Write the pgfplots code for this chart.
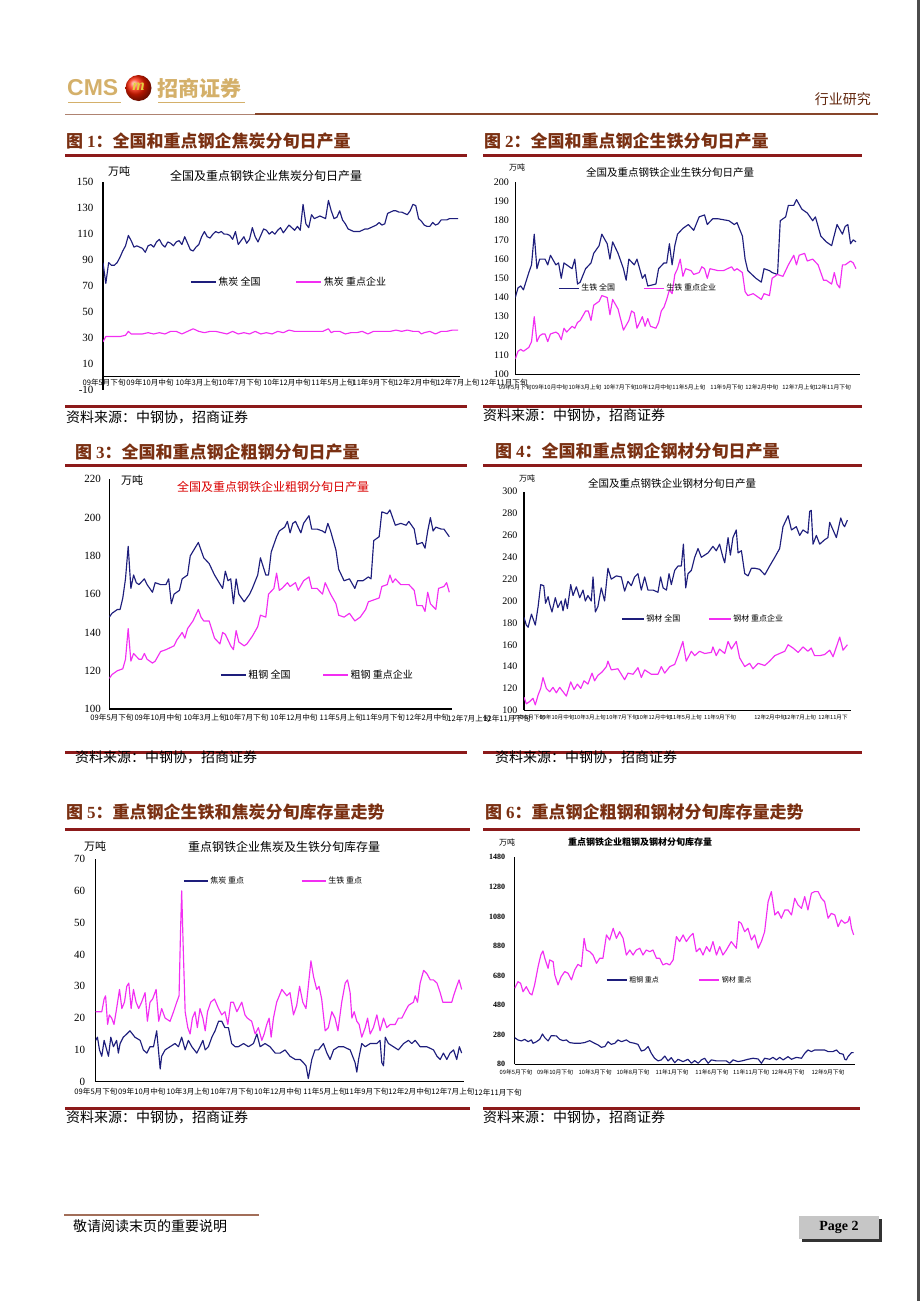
\documentclass[border=0pt]{standalone}
\usepackage{fontspec}
\setmainfont{Liberation Serif}
\newfontfamily\cjk{Noto Sans CJK SC}
\newfontfamily\sans{Liberation Sans}
\usepackage{pgfplots}
\pgfplotsset{compat=1.18}
\definecolor{navy}{HTML}{1E1E7C}
\definecolor{mag}{HTML}{F22EF2}
\definecolor{brn}{HTML}{7A3012}
\definecolor{rul}{HTML}{8C1A1A}
\definecolor{gold}{HTML}{D4B06A}
\newcommand{\fs}[1]{\fontsize{#1}{#1}\selectfont}
\pgfplotsset{
 chart/.style={
  scale only axis, axis y line*=left, axis x line*=bottom,
  axis line style={black, line width=1.3pt},
  xmin=0, major tick length=0pt,
  hide obscured x ticks=false,
  /pgf/number format/assume math mode=true,
  /pgf/number format/1000 sep={},
  xticklabel style={anchor=north, inner sep=0.5pt},
  legend cell align=left,
  legend style={draw=none, fill=none, inner sep=0pt, legend columns=2, anchor=west},
  every axis plot/.append style={line width=1.15pt, line join=round, mark=none},
 },
 bl/.style={color=navy},
 pk/.style={color=mag},
}
\begin{document}
\begin{tikzpicture}[x=1pt,y=-1pt]
\path[use as bounding box] (0,0) rectangle (920,1301);
% header
\node[anchor=west, font=\sans\bfseries\fs{23}, text=gold, inner sep=0] at (67,88) {CMS};
\shade[ball color=red!75!orange] (138.5,88) circle (13);
\node[font=\bfseries\itshape\fs{16}, text=gold!60!yellow] at (138.5,87) {m};
\node[anchor=west, font=\cjk\bfseries\fs{21}, text=gold, inner sep=0] at (157,88) {招商证券};
\draw[gold, line width=0.8pt] (68,102) -- (121,102);
\draw[gold, line width=0.8pt] (158,102) -- (245,102);
\node[anchor=east, font=\cjk\fs{14}, text=brn!80!black, inner sep=0] at (871,99) {行业研究};
\draw[brn!60, line width=1pt] (65,114) -- (255,114);
\draw[brn!90, line width=1.8pt] (255,114) -- (878,114);
\draw[gray!60!black, line width=2.5pt] (918.5,0) -- (918.5,1301);
% section titles
\begin{scope}[every node/.style={anchor=west, font=\cjk\bfseries\fs{17}, text=brn, inner sep=0}]
\node at (66,141) {图 \textrm{1}：全国和重点钢企焦炭分旬日产量};
\node at (484,141) {图 \textrm{2}：全国和重点钢企生铁分旬日产量};
\node at (75,452) {图 \textrm{3}：全国和重点钢企粗钢分旬日产量};
\node at (495,451) {图 \textrm{4}：全国和重点钢企钢材分旬日产量};
\node at (66,812) {图 \textrm{5}：重点钢企生铁和焦炭分旬库存量走势};
\node at (485,812) {图 \textrm{6}：重点钢企粗钢和钢材分旬库存量走势};
\end{scope}
\begin{scope}[rul, line width=3pt]
\draw (65,155) -- (467,155); \draw (483,155) -- (862,155);
\draw (65,465) -- (467,465); \draw (483,465) -- (862,465);
\draw (65,829) -- (470,829); \draw (483,829) -- (860,829);
\draw (65,406) -- (467,406); \draw (483,406) -- (862,406);
\draw (65,752) -- (467,752); \draw (483,752) -- (862,752);
\draw (65,1108) -- (470,1108); \draw (483,1108) -- (860,1108);
\end{scope}
\begin{scope}[every node/.style={anchor=west, font=\cjk\fs{14}, inner sep=0}]
\node at (66,417) {资料来源：中钢协，招商证券};
\node at (483,415) {资料来源：中钢协，招商证券};
\node at (75,757) {资料来源：中钢协，招商证券};
\node at (495,757) {资料来源：中钢协，招商证券};
\node at (66,1117) {资料来源：中钢协，招商证券};
\node at (483,1117) {资料来源：中钢协，招商证券};
\end{scope}
% chart titles and units
\node[font=\cjk\fs{12}] at (266,176) {全国及重点钢铁企业焦炭分旬日产量};
\node[font=\cjk\fs{11}] at (119,171) {万吨};
\node[font=\cjk\fs{10.5}] at (670,172) {全国及重点钢铁企业生铁分旬日产量};
\node[font=\cjk\fs{8}] at (517,167) {万吨};
\node[font=\cjk\fs{12}, text=red!85!black] at (273,487) {全国及重点钢铁企业粗钢分旬日产量};
\node[font=\cjk\fs{11}] at (132,480) {万吨};
\node[font=\cjk\fs{10.5}] at (672,483) {全国及重点钢铁企业钢材分旬日产量};
\node[font=\cjk\fs{8}] at (527,478) {万吨};
\node[font=\cjk\fs{12}] at (284,847) {重点钢铁企业焦炭及生铁分旬库存量};
\node[font=\cjk\fs{11}] at (95,846) {万吨};
\node[font=\cjk\bfseries\fs{9}] at (640,842) {重点钢铁企业粗钢及钢材分旬库存量};
\node[font=\cjk\fs{8}] at (507,842) {万吨};
% category labels that run past the right end of their axes
\node[font=\cjk\fs{7.6}, inner sep=0.5pt] at (504,383) {12年11月下旬};
\node[font=\cjk\fs{7.6}, inner sep=0.5pt] at (469,719) {12年7月上旬};
\node[font=\cjk\fs{7.6}, inner sep=0.5pt] at (507,719) {12年11月下旬};
\node[font=\cjk\fs{7.6}, inner sep=0.5pt] at (498,1093) {12年11月下旬};
% footer
\draw[brn!70, line width=1.5pt] (64,1215) -- (259,1215);
\node[anchor=west, font=\cjk\fs{14}, inner sep=0] at (73,1226) {敬请阅读末页的重要说明};
\fill[black!80] (802,1219) rectangle (882,1242);
\fill[gray!45] (799,1216) rectangle (879,1239);
\node[font=\bfseries\fs{14}] at (839,1227.5) {Page 2};

% ---------------- chart 1
\begin{axis}[chart, at={(103pt,-389.7pt)}, anchor=south west, width=357pt, height=207.4pt,
  axis x line*=middle, ymin=-10, ymax=150, ytick={-10,10,...,150}, xmax=126.7,
  yticklabel style={font=\fs{11}, xshift=-6pt},
  xtick={0.4,16.7,33.4,48.6,65.3,81.6,96.2,111.1,126},
  xticklabels={09年5月下旬,09年10月中旬,10年3月上旬,10年7月下旬,10年12月中旬,11年5月上旬,11年9月下旬,12年2月中旬,12年7月上旬},
  xticklabel style={font=\cjk\fs{7.6}, yshift=-1.5pt},
  legend style={at={(0.244,0.519)}, font=\cjk\fs{10}, /tikz/every even column/.append style={column sep=33pt}},
  legend image code/.code={\draw[#1] (0pt,0pt) -- (25pt,0pt);}]
\addplot[bl] coordinates {(0,88)(1,72)(2,88)(3,86)(4,86)(5,88)(6,92)(7,97)(8,101)(9,109)(10,105)(11,100)(12,101)(13,100)(14,99)(15,96)(16,101)(17,102)(18,100)(19,104)(20,106)(21,102)(22,100)(23,104)(24,103)(25,101)(26,104)(27,105)(28,102)(29,108)(30,103)(31,98)(32,97)(33,100)(34,102)(35,108)(36,112)(37,108)(38,107)(39,110)(40,112)(41,111)(42,112)(43,110)(44,110)(45,109)(46,106)(47,112)(48,102)(49,105)(50,108)(51,103)(52,106)(53,115)(54,108)(55,104)(56,109)(57,114)(58,113)(59,110)(60,112)(61,110)(62,113)(63,115)(64,111)(65,114)(66,117)(67,115)(68,113)(69,116)(70,113)(71,133)(72,118)(73,115)(74,125)(75,122)(76,123)(77,124)(78,123)(79,122)(80,136)(81,128)(82,122)(83,123)(84,128)(85,121)(86,118)(87,114)(88,113)(89,112)(90,112)(91,112)(92,113)(93,114)(94,114)(95,115)(96,116)(97,117)(98,119)(99,117)(100,118)(101,126)(102,127)(103,128)(104,128)(105,127)(106,127)(107,126)(108,125)(109,128)(110,133)(111,132)(112,122)(113,120)(114,117)(115,116)(116,116)(117,119)(118,117)(119,118)(120,121)(121,121)(122,121)(123,122)(124,122)(125,122)(126,122)};
\addlegendentry{焦炭 全国}
\addplot[pk] coordinates {(0,27)(1,31)(2,31)(4,31)(6,31)(8,32)(9,35)(10,33)(12,33)(14,33)(16,34)(18,33)(20,34)(22,33)(24,35)(26,35)(28,33)(30,35)(32,37)(34,35)(36,34)(38,35)(40,35)(42,34)(44,33)(46,35)(48,33)(50,34)(52,33)(54,35)(56,33)(58,34)(60,33)(62,35)(64,34)(66,36)(68,35)(70,35)(72,35)(74,35)(76,35)(78,35)(80,37)(81,34)(82,35)(84,35)(86,33)(88,34)(90,34)(92,35)(94,33)(96,35)(98,35)(100,35)(102,35)(104,36)(106,35)(108,36)(110,35)(112,35)(113,33)(114,34)(116,35)(118,33)(120,35)(122,35)(124,36)(126,36)};
\addlegendentry{焦炭 重点企业}
\end{axis}

% ---------------- chart 2
\begin{axis}[chart, at={(515.3pt,-374.3pt)}, anchor=south west, width=344.7pt, height=192pt,
  ymin=100, ymax=200, ytick={100,110,...,200}, xmax=127.5,
  yticklabel style={font=\fs{10}, xshift=-3pt},
  xtick={0,12.8,25.8,38.7,51.3,64.2,78.2,91.2,104.9,117.5},
  xticklabels={09年5月下旬,09年10月中旬,10年3月上旬,10年7月下旬,10年12月中旬,11年5月上旬,11年9月下旬,12年2月中旬,12年7月上旬,12年11月下旬},
  xticklabel style={font=\cjk\fs{5.8}, yshift=-9.3pt},
  legend style={at={(0.124,0.449)}, font=\cjk\fs{8}, /tikz/every even column/.append style={column sep=26pt}},
  legend image code/.code={\draw[#1] (0pt,0pt) -- (20pt,0pt);}]
\addplot[bl] coordinates {(0,140)(1,145)(2,146)(3,144)(5,153)(6,157)(7,173)(8,155)(9,160)(11,160)(12,157)(13,162)(15,157)(16,158)(17,150)(18,158)(21,155)(22,160)(23,147)(24,148)(26,155)(28,158)(29,163)(31,167)(32,173)(34,168)(35,160)(36,169)(38,163)(40,155)(41,149)(42,160)(44,157)(45,160)(47,150)(48,152)(49,146)(52,147)(53,155)(55,158)(56,158)(57,168)(58,157)(59,167)(60,173)(62,176)(64,178)(66,175)(68,182)(70,183)(71,178)(73,181)(75,181)(79,180)(81,178)(82,179)(84,172)(85,160)(86,154)(89,150)(91,148)(92,155)(94,154)(95,153)(97,152)(98,180)(100,182)(101,188)(103,188)(104,191)(106,186)(108,184)(110,180)(111,182)(113,172)(115,169)(117,167)(119,178)(121,173)(122,177)(123,178)(124,168)(125,170)(126,169)};
\addlegendentry{生铁 全国}
\addplot[pk] coordinates {(0,108)(1,112)(2,113)(3,112)(5,114)(6,117)(7,130)(8,117)(9,120)(10,121)(11,121)(12,117)(13,121)(15,122)(16,121)(17,118)(18,124)(19,122)(21,125)(22,124)(23,127)(24,128)(26,133)(27,133)(28,128)(29,136)(31,138)(32,141)(34,140)(35,131)(36,139)(38,134)(40,123)(42,128)(43,133)(44,132)(45,124)(47,130)(48,125)(49,129)(50,125)(52,124)(53,127)(54,133)(55,135)(56,139)(57,144)(58,142)(59,152)(60,155)(61,160)(62,151)(63,155)(65,154)(66,152)(68,153)(69,156)(70,155)(71,150)(72,155)(75,154)(77,154)(80,156)(81,154)(82,155)(84,153)(85,143)(86,141)(88,142)(91,139)(92,142)(94,141)(95,150)(97,152)(99,151)(101,157)(103,162)(104,157)(105,162)(107,163)(108,159)(110,160)(112,157)(114,149)(115,149)(117,147)(118,153)(119,147)(120,145)(121,157)(122,157)(124,159)(125,158)(126,155)};
\addlegendentry{生铁 重点企业}
\end{axis}

% ---------------- chart 3
\begin{axis}[chart, at={(109.3pt,-709pt)}, anchor=south west, width=342.7pt, height=229.7pt,
  ymin=100, ymax=220, ytick={100,120,...,220}, xmax=127,
  yticklabel style={font=\fs{11}, xshift=-5pt},
  xtick={1,18.1,35.5,51,68.4,85.9,101.6,117.8},
  xticklabels={09年5月下旬,09年10月中旬,10年3月上旬,10年7月下旬,10年12月中旬,11年5月上旬,11年9月下旬,12年2月中旬},
  xticklabel style={font=\cjk\fs{7.6}, yshift=-4.5pt},
  legend style={at={(0.323,0.148)}, font=\cjk\fs{10}, /tikz/every even column/.append style={column sep=30pt}},
  legend image code/.code={\draw[#1] (0pt,0pt) -- (25pt,0pt);}]
\addplot[bl] coordinates {(0,148)(1,150)(3,152)(4,152)(5,158)(6,168)(7,185)(8,163)(9,170)(10,166)(11,165)(13,168)(14,165)(16,161)(17,166)(19,165)(21,165)(22,168)(23,155)(24,160)(26,162)(27,168)(29,170)(30,180)(33,187)(34,183)(35,179)(37,176)(39,170)(42,163)(43,172)(44,167)(45,168)(46,155)(47,168)(48,160)(50,156)(52,160)(53,163)(55,170)(56,179)(58,170)(59,170)(60,182)(62,190)(63,193)(65,195)(66,198)(67,192)(68,197)(69,198)(71,192)(72,197)(74,201)(75,194)(77,194)(79,193)(80,192)(81,197)(82,193)(84,183)(85,173)(87,167)(89,168)(91,163)(92,167)(94,167)(96,169)(97,168)(98,188)(100,190)(101,203)(103,202)(104,204)(105,200)(106,196)(108,197)(110,196)(111,198)(113,194)(114,186)(116,187)(117,184)(118,193)(119,200)(120,193)(121,195)(123,194)(124,194)(126,190)};
\addlegendentry{粗钢 全国}
\addplot[pk] coordinates {(0,116)(1,118)(3,120)(5,121)(6,126)(7,142)(8,125)(9,129)(11,126)(12,126)(13,129)(14,126)(16,124)(17,125)(19,130)(21,131)(24,133)(25,136)(27,140)(28,137)(29,142)(31,146)(33,152)(34,148)(35,146)(37,146)(39,137)(41,134)(42,140)(43,139)(45,133)(46,131)(47,141)(48,135)(50,133)(51,134)(53,138)(55,143)(56,149)(58,148)(59,160)(61,163)(62,171)(63,162)(64,163)(66,166)(67,164)(69,166)(70,162)(72,167)(74,169)(75,163)(77,163)(79,160)(80,166)(82,160)(84,155)(85,149)(87,148)(89,150)(91,146)(93,148)(95,152)(96,156)(98,157)(100,158)(101,164)(103,165)(104,170)(105,166)(106,168)(108,165)(111,165)(113,162)(114,154)(116,154)(117,151)(118,161)(119,155)(121,152)(122,163)(124,164)(125,166)(126,161)};
\addlegendentry{粗钢 重点企业}
\end{axis}

% ---------------- chart 4
\begin{axis}[chart, at={(524pt,-710.3pt)}, anchor=south west, width=327pt, height=218.6pt,
  ymin=100, ymax=300, ytick={100,120,...,300}, xmax=127.4,
  yticklabel style={font=\fs{10}, xshift=-3pt},
  xtick={2,12.9,25.7,38.2,50.7,63.1,76.4,95.9,107.6,120.4},
  xticklabels={09年5月下旬,09年10月中旬,10年3月上旬,10年7月下旬,10年12月中旬,11年5月上旬,11年9月下旬,12年2月中旬,12年7月上旬,12年11月下},
  xticklabel style={font=\cjk\fs{5.6}, yshift=-4pt},
  legend style={at={(0.297,0.418)}, font=\cjk\fs{8}, /tikz/every even column/.append style={column sep=26pt}},
  legend image code/.code={\draw[#1] (0pt,0pt) -- (22pt,0pt);}]
\addplot[bl] coordinates {(0,185)(0.9,178)(1.6,176)(2.9,188)(3.5,184)(4.4,178)(5.5,195)(6.5,215)(7.7,214)(8.4,198)(9.4,204)(10,197)(10.9,190)(12.2,203)(13.2,194)(14.5,200)(15.2,191)(16.1,202)(16.9,193)(18.2,215)(19.1,205)(20.4,213)(21.7,203)(23,210)(23.9,200)(24.9,205)(26.2,200)(26.9,222)(27.8,190)(28.8,195)(30.1,212)(31.4,200)(32.7,230)(34,220)(36,223)(37.9,222)(39.2,209)(40.5,218)(41.8,214)(43.1,222)(44.4,225)(45.7,210)(47,222)(48.3,210)(50.3,210)(52.2,208)(53.2,222)(54.2,212)(55.5,210)(56.5,225)(57.4,215)(58.7,228)(60,232)(61.3,232)(62.1,252)(63,212)(63.9,225)(65.2,228)(66.5,240)(67.8,248)(69.1,240)(71.7,244)(73.6,250)(74.9,246)(76.2,252)(77.5,240)(78.2,235)(79.5,258)(80.4,242)(81.4,258)(82.7,265)(83.4,244)(84.7,246)(86,225)(87.3,223)(88.6,230)(89.9,230)(91.8,229)(93.8,224)(95.7,232)(97.7,240)(99.6,248)(100.9,268)(102.9,278)(104.2,265)(106.1,268)(107.4,260)(108.7,265)(110.6,262)(111.3,282)(111.9,283)(112.6,252)(113.9,260)(115.2,252)(117.1,256)(118.4,258)(119.1,272)(120.4,265)(121.7,258)(123.4,276)(124.3,270)(124.9,268)(126,274)};
\addlegendentry{钢材 全国}
\addplot[pk] coordinates {(0,112)(0.9,106)(2.2,108)(3.5,111)(4.4,105)(5.5,114)(6.5,120)(7.4,130)(8.7,120)(10,117)(11.3,121)(12.6,116)(13.9,121)(15.2,117)(16.5,113)(18.2,126)(19.5,119)(20.8,124)(22.1,120)(23.4,127)(24.9,124)(26.5,134)(27.5,127)(28.8,132)(30.4,135)(32.1,140)(32.7,145)(34,137)(36.6,138)(39.2,128)(40.5,134)(42.5,133)(44.4,139)(45.7,130)(47,137)(49.6,133)(52.2,133)(53.5,140)(54.8,134)(56.8,140)(58.7,142)(60,150)(61.9,163)(63.2,145)(65.2,154)(66.5,150)(68.4,154)(70.4,152)(73,153)(73.6,158)(74.9,150)(76.2,156)(78.2,152)(79.5,163)(80.8,156)(82.7,163)(84,148)(86,140)(87.9,143)(89.2,138)(91.2,143)(93.8,141)(95.7,145)(97.7,150)(99.6,152)(101.6,154)(102.9,160)(104.8,157)(106.8,153)(108.7,158)(110.6,154)(111.9,157)(113.2,150)(115.2,150)(117.1,151)(119.1,155)(120.4,149)(121.7,158)(123,167)(124.3,155)(126,160)};
\addlegendentry{钢材 重点企业}
\end{axis}

% ---------------- chart 5
\begin{axis}[chart, at={(95.7pt,-1081.7pt)}, anchor=south west, width=368.3pt, height=222.7pt,
  ymin=0, ymax=70, ytick={0,10,...,70}, xmax=126.8,
  yticklabel style={font=\fs{11}, xshift=-7pt},
  xtick={0.1,15.9,31.8,46.9,62.7,78.9,93.4,108.2,123},
  xticklabels={09年5月下旬,09年10月中旬,10年3月上旬,10年7月下旬,10年12月中旬,11年5月上旬,11年9月下旬,12年2月中旬,12年7月上旬},
  xticklabel style={font=\cjk\fs{7.6}, yshift=-5.8pt},
  legend style={at={(0.237,0.901)}, font=\cjk\fs{8}, /tikz/every even column/.append style={column sep=55pt}},
  legend image code/.code={\draw[#1] (0pt,0pt) -- (24pt,0pt);}]
\addplot[bl] coordinates {(0,13)(0.6,14)(1.3,10)(2.1,8)(2.9,13)(3.8,10)(4.4,8)(5.2,14)(6.1,11)(7.2,13)(7.8,9)(8.4,12)(9.5,14)(10.7,15)(11.8,16)(13.5,14)(15.3,13)(16.4,10)(17.6,9)(18.7,11)(19.9,11)(21,16)(21.6,10)(22.2,4)(22.7,8)(23.9,10)(25.6,11)(27.3,12)(28.5,11)(29.6,14)(30.8,10)(31.9,13)(33.1,11)(34.8,9)(35.9,11)(36.9,13)(37.7,10)(38.8,11)(40,14)(41.1,16)(42.3,19)(43.4,19)(44.5,17)(45.7,17)(46.8,12)(48,11)(49.1,11)(50.9,12)(52.6,11)(54.3,12)(55.5,15)(56.6,11)(58.3,12)(60,11)(61.8,9)(63.5,9)(65.2,10)(66.9,8)(68.7,7)(70.4,7)(71.5,6)(72.4,5)(73.2,1)(74.4,7)(75.5,10)(76.7,10)(78.4,12)(79.6,9)(80.7,7)(81.9,10)(83.6,11)(85.3,11)(87.6,10)(89.3,6)(89.9,3)(90.5,7)(91.6,12)(92.8,11)(94.5,12)(96.8,12)(97.9,13)(98.5,6)(99.1,5)(99.7,14)(100.8,12)(102.5,11)(104.2,10)(106,12)(107.7,13)(108.8,12)(110,13)(111.7,11)(114,11)(116.3,10)(117.5,8)(118.6,7)(119.7,9)(120.9,7)(122,9)(123.2,10)(124.3,7)(125.2,11)(126,9)};
\addlegendentry{焦炭 重点}
\addplot[pk] coordinates {(0,22)(0.9,22)(2.1,22)(2.9,26)(3.4,27)(4.1,18)(4.7,21)(5.5,20)(6.3,18)(7.2,23)(8.2,29)(9,23)(9.9,25)(10.7,30)(11.4,31)(12.2,23)(13,29)(13.9,25)(14.8,23)(15.8,25)(17,28)(17.8,19)(18.7,25)(19.6,26)(20.8,29)(21.7,19)(22.7,23)(23.9,20)(25.6,19)(26.8,22)(27.9,25)(28.7,27)(29.2,47)(29.6,60)(30.2,40)(30.8,22)(31.7,17)(32.5,15)(33.3,20)(34.2,22)(35,17)(35.9,23)(36.9,20)(37.7,16)(38.5,22)(39.6,25)(40.9,26)(42.3,23)(43.4,21)(44.5,22)(45.5,18)(46.5,25)(47.4,25)(48.6,22)(50.3,25)(51.4,21)(52.2,20)(53.7,19)(54.9,15)(56,17)(57.2,13)(58,15)(58.9,18)(59.7,20)(60.4,14)(61.2,20)(62.3,25)(64.1,29)(65.8,27)(66.9,28)(68.1,21)(69.2,24)(70.2,30)(71.3,25)(72.4,23)(74.1,38)(75,33)(76.1,29)(76.9,30)(77.8,26)(79,16)(80.1,17)(81.3,22)(82.4,20)(83.4,16)(84.7,25)(85.9,31)(86.7,32)(87.6,28)(88.2,20)(89,22)(89.9,19)(90.7,18)(91.6,14)(92.8,17)(93.6,20)(94.5,15)(95.6,17)(96.8,21)(97.9,16)(99.1,20)(100.2,17)(101.4,18)(103.1,18)(104.2,20)(105.4,20)(106.5,22)(107.7,24)(109.4,25)(110,27)(110.8,25)(111.7,31)(112.9,35)(114,34)(115.2,32)(116.3,32)(117.5,31)(118.6,28)(119.5,25)(120.9,25)(122.6,25)(123.2,27)(124.3,30)(125.1,32)(126,29)};
\addlegendentry{生铁 重点}
\end{axis}

% ---------------- chart 6
\begin{axis}[chart, at={(514.7pt,-1064.3pt)}, anchor=south west, width=340.3pt, height=207pt,
  ymin=80, ymax=1480, ytick={80,280,...,1480}, xmax=126.5,
  yticklabel style={font=\bfseries\fs{8}, xshift=-6pt},
  xtick={0.5,15,29.9,44,58.5,73.3,87.9,101.6,116.5},
  xticklabels={09年5月下旬,09年10月下旬,10年3月下旬,10年8月下旬,11年1月下旬,11年6月下旬,11年11月下旬,12年4月下旬,12年9月下旬},
  xticklabel style={font=\cjk\fs{5.8}, yshift=-5pt},
  legend style={at={(0.268,0.407)}, font=\cjk\fs{7}, /tikz/every even column/.append style={column sep=38pt}},
  legend image code/.code={\draw[#1] (0pt,0pt) -- (20pt,0pt);}]
\addplot[bl] coordinates {(0,260)(1.2,245)(2.5,238)(3.7,249)(5,233)(6.2,245)(6.8,222)(8.1,233)(9.3,249)(10.3,285)(11.2,260)(12.4,238)(13.6,274)(15.5,272)(16.7,249)(18,240)(19.2,245)(20.4,227)(22.3,222)(24.2,222)(26,227)(27.9,240)(29.7,222)(31,211)(32.2,195)(33.5,200)(34.7,233)(35.9,215)(37.2,222)(38.4,245)(39.7,233)(41.5,245)(42.8,229)(44.6,222)(45.8,215)(47.1,170)(48.3,177)(49.6,200)(50.8,154)(52,121)(53.3,103)(54.5,110)(55.8,136)(57,103)(58.2,125)(59.5,91)(60.7,114)(62.6,98)(64.4,114)(65.7,87)(66.9,105)(68.2,87)(69.4,110)(70.6,121)(71.9,87)(73.1,110)(75,103)(76.8,103)(78.7,103)(79.9,87)(81.2,110)(83,98)(84.9,105)(86.7,114)(88.6,121)(90.5,116)(91.7,87)(92.9,121)(94.8,114)(96,127)(97.3,110)(98.5,127)(99.8,110)(101.6,132)(102.9,114)(104.7,127)(106.6,121)(107.8,154)(109,177)(110.3,166)(111.5,177)(113.4,177)(115.2,177)(116.5,166)(118.3,166)(119.6,177)(120.8,154)(122.1,148)(122.7,114)(123.3,110)(123.9,132)(125.2,159)(126,159)};
\addlegendentry{粗钢 重点}
\addplot[pk] coordinates {(0,594)(1.2,639)(2.2,628)(3.1,571)(4.3,605)(5.6,560)(6.4,549)(7.4,617)(8.7,741)(9.7,819)(10.5,847)(11.2,797)(12.4,729)(13,786)(14.3,774)(14.9,684)(16.1,617)(17.3,673)(18.6,707)(19.8,696)(21.1,651)(22.3,718)(23.5,756)(24.8,741)(25.8,932)(26.6,853)(27.9,842)(29.1,819)(30.4,763)(31.6,797)(32.8,797)(34.1,955)(35.3,921)(36.6,1000)(37.8,932)(39,977)(40.3,932)(41.5,819)(42.8,853)(44,819)(45.2,853)(46.5,865)(47.7,819)(48.9,853)(50.2,842)(51.4,853)(52.7,797)(53.9,797)(55.1,752)(56.4,763)(57.6,752)(58.9,786)(60.1,944)(61.3,910)(62.6,955)(63.8,910)(65.1,944)(66.3,966)(67.5,842)(68.8,865)(70,819)(71.3,876)(72.5,842)(73.7,910)(75,819)(76.2,876)(77.4,819)(78.7,853)(80.5,910)(82.4,865)(83.3,1045)(84.2,1034)(85.5,977)(86.7,1000)(88,921)(89.2,955)(90.5,865)(91.7,910)(92.9,977)(94.2,1180)(95.4,1248)(96.7,1090)(97.9,1113)(99.1,1068)(100.4,1124)(101.6,1124)(102.9,1090)(104.1,1203)(105.3,1158)(106.6,1135)(107.8,1214)(109,1124)(110.3,1237)(111.5,1248)(112.8,1248)(114,1203)(115.2,1180)(116.5,1068)(117.7,1101)(119,1090)(120.2,1011)(121.4,1056)(122.7,1034)(123.9,1045)(124.5,1079)(125.2,1000)(126,955)};
\addlegendentry{钢材 重点}
\end{axis}
\end{tikzpicture}
\end{document}
